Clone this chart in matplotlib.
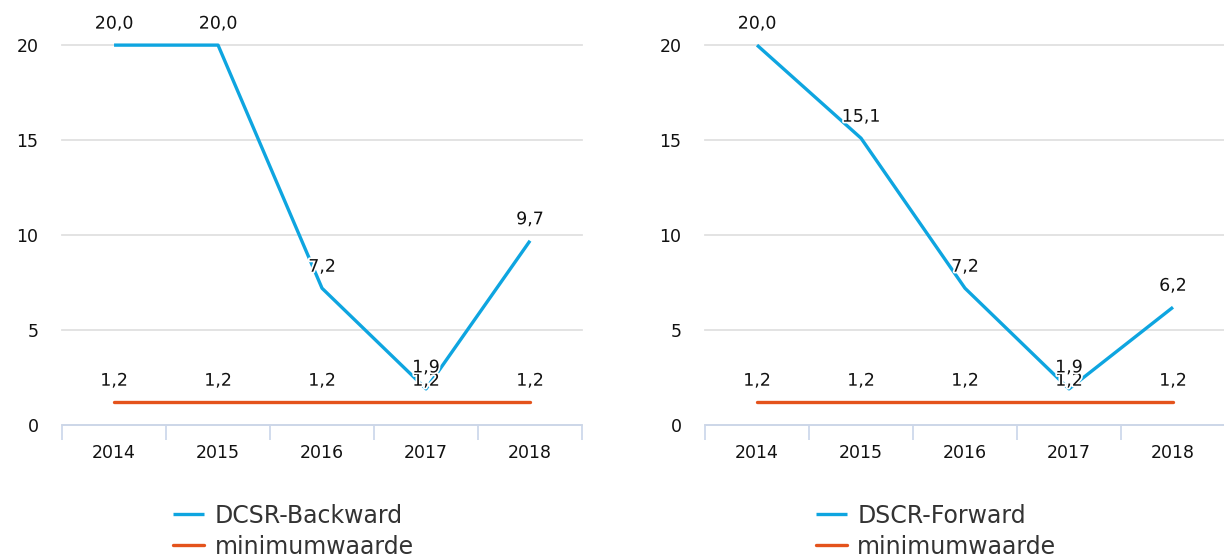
import matplotlib.pyplot as plt
import matplotlib.patheffects as pe
import numpy as np

years = ['2014', '2015', '2016', '2017', '2018']
backward = [20.0, 20.0, 7.2, 1.9, 9.7]
forward = [20.0, 15.1, 7.2, 1.9, 6.2]
minimum = [1.2, 1.2, 1.2, 1.2, 1.2]

blue = '#0ea5e0'
orange = '#e4531c'
axcol = '#c9d5ea'

plt.rcParams['font.family'] = ['DejaVu Sans']

fig = plt.figure(figsize=(12.24, 5.57), dpi=100)

def fmt(v):
    return ('%.1f' % v).replace('.', ',')

def panel(rect, series, name, legx):
    ax = fig.add_axes(rect)
    x = np.arange(len(years))
    ax.plot(x, series, color=blue, lw=2.4, label=name, solid_capstyle='butt', clip_on=False)
    ax.plot(x, minimum, color=orange, lw=2.4, label='minimumwaarde', solid_capstyle='round')
    halo = [pe.withStroke(linewidth=2.5, foreground='white')]
    for xi, v in zip(x, minimum):
        ax.annotate(fmt(v), (xi, v), xytext=(0, 9), textcoords='offset points',
                    ha='center', va='bottom', fontsize=12.5, color='#111111', path_effects=halo)
    for xi, v in zip(x, series):
        ax.annotate(fmt(v), (xi, v), xytext=(0, 9), textcoords='offset points',
                    ha='center', va='bottom', fontsize=12.5, color='#111111', path_effects=halo)
    ax.set_xlim(-0.5, len(years) - 0.5)
    ax.set_ylim(0, 20)
    ax.set_yticks([0, 5, 10, 15, 20])
    ax.set_xticks(x)
    ax.set_xticklabels(years)
    ax.set_xticks(np.arange(-0.5, len(years)), minor=True)
    ax.tick_params(axis='x', which='major', length=0, pad=14, labelsize=12.5, labelcolor='#111111')
    ax.tick_params(axis='x', which='minor', length=11, width=1.2, color=axcol)
    ax.tick_params(axis='y', length=0, pad=17, labelsize=12.5, labelcolor='#111111')
    ax.grid(axis='y', color='#e1e1e1', lw=1.3)
    for gl in ax.get_ygridlines():
        gl.set_clip_on(False)
    ax.set_axisbelow(True)
    for s in ['top', 'right', 'left']:
        ax.spines[s].set_visible(False)
    ax.spines['bottom'].set_color(axcol)
    ax.spines['bottom'].set_linewidth(1.2)
    ax.legend(loc='upper left', bbox_to_anchor=(legx, 0.117), bbox_transform=fig.transFigure,
              frameon=False, fontsize=17, handlelength=1.3, handletextpad=0.45,
              labelspacing=0.3, borderpad=0, labelcolor='#333333')
    return ax

panel([0.0507, 0.237, 0.4248, 0.682], backward, 'DCSR-Backward', 0.132)
panel([0.576, 0.237, 0.4248, 0.682], forward, 'DSCR-Forward', 0.657)

fig.savefig('out.png', dpi=100)
